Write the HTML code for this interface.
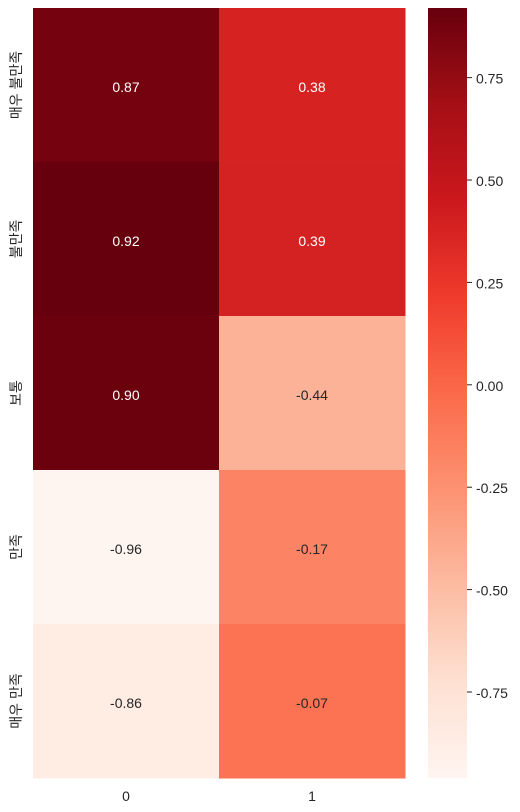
<!DOCTYPE html>
<html><head><meta charset="utf-8">
<style>
html,body{margin:0;padding:0;background:#fff;}
svg{display:block;font-family:"Liberation Sans","Noto Sans CJK KR",sans-serif;}
</style></head>
<body>
<svg id="chart" width="520" height="812" xmlns="http://www.w3.org/2000/svg"></svg>
<script>
const rowLabels = ["매우 불만족","불만족","보통","만족","매우 만족"];
const colLabels = ["0","1"];
const col0Values = [0.87,0.92,0.90,-0.96,-0.86];
const col1Values = [0.38,0.39,-0.44,-0.17,-0.07];
const cbTicks = [0.75,0.50,0.25,0.00,-0.25,-0.50,-0.75];
const vmin = -0.96, vmax = 0.92;

const NS="http://www.w3.org/2000/svg";
const svg=document.getElementById('chart');
const L=33,R=405,T=8,B=778;
const cw=(R-L)/colLabels.length, rh=(B-T)/rowLabels.length;
const stops=["#fff5f0","#fee0d2","#fcbba1","#fc9272","#fb6a4a","#ef3b2c","#cb181d","#a50f15","#67000d"];
function hex(h){return [1,3,5].map(i=>parseInt(h.substr(i,2),16));}
function cmap(v){
  let t=(v-vmin)/(vmax-vmin); t=Math.max(0,Math.min(1,t));
  const p=t*(stops.length-1), i=Math.min(Math.floor(p),stops.length-2), f=p-i;
  const a=hex(stops[i]), b=hex(stops[i+1]);
  return `rgb(${a.map((x,k)=>Math.round(x+(b[k]-x)*f)).join(',')})`;
}
function lum(v){const t=(v-vmin)/(vmax-vmin);return t<0.5;}
function mk(tag,attrs,text){const e=document.createElementNS(NS,tag);for(const k in attrs)e.setAttribute(k,attrs[k]);if(text!==undefined)e.textContent=text;svg.appendChild(e);return e;}
const cols=[col0Values,col1Values];
cols.forEach((vals,c)=>{
  vals.forEach((v,r)=>{
    const x=L+c*cw,y=T+r*rh;
    const rc=mk('rect',{x:x,y:y,width:cw+0.5,height:rh+0.5,fill:cmap(v)});
    
    
    const tx=mk('text',{x:x+cw/2,y:y+rh/2+7,'text-anchor':'middle','font-size':14,fill:lum(v)?'#262626':'#ffffff'},v.toFixed(2));
    
    
  });
});
rowLabels.forEach((lab,r)=>{
  const cy=T+r*rh+rh/2;
  const t=mk('text',{x:0,y:0,transform:`translate(21,${cy}) rotate(-90)`,'text-anchor':'middle','font-size':14,fill:'#262626'},lab);
  
  
});
colLabels.forEach((lab,c)=>{
  const t=mk('text',{x:L+c*cw+cw/2,y:801,'text-anchor':'middle','font-size':14,fill:'#262626'},lab);
  
  
});
const cbL=428,cbR=467;
const defs=document.createElementNS(NS,'defs');svg.appendChild(defs);
const g=document.createElementNS(NS,'linearGradient');g.setAttribute('id','cbg');g.setAttribute('x1','0');g.setAttribute('y1','1');g.setAttribute('x2','0');g.setAttribute('y2','0');defs.appendChild(g);
stops.forEach((s,i)=>{const st=document.createElementNS(NS,'stop');st.setAttribute('offset',i/(stops.length-1));st.setAttribute('stop-color',s);g.appendChild(st);});
const cb=mk('rect',{x:cbL,y:T,width:cbR-cbL,height:B-T,fill:'url(#cbg)'});


function cy(v){return B-(v-vmin)/(vmax-vmin)*(B-T);}
cbTicks.forEach(v=>{
  const y=cy(v);
  const ln=mk('line',{x1:cbR,x2:cbR+5,y1:y,y2:y,stroke:'#262626','stroke-width':1});
  
  
  const t=mk('text',{x:cbR+9,y:y+6,'font-size':14,fill:'#262626'},v.toFixed(2));
  
  
});
</script>
</body></html>
